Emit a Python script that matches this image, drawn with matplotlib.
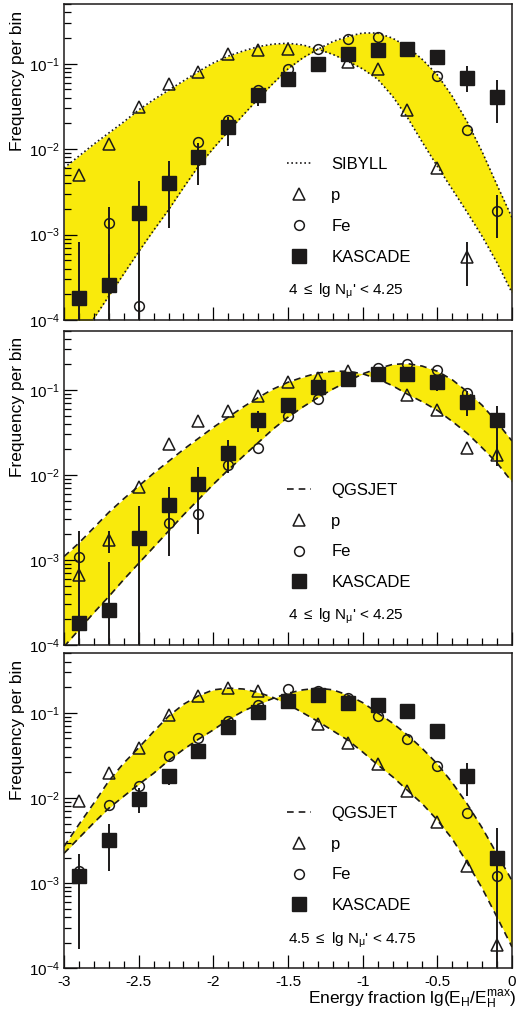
import numpy as np
import matplotlib
matplotlib.use('Agg')
import matplotlib.pyplot as plt
from matplotlib.ticker import LogLocator, MultipleLocator, NullFormatter, FuncFormatter
from matplotlib.lines import Line2D

plt.rcParams['font.family'] = ['Liberation Sans', 'DejaVu Sans']
plt.rcParams['mathtext.fontset'] = 'custom'
plt.rcParams['mathtext.rm'] = 'Liberation Sans'
plt.rcParams['mathtext.it'] = 'Liberation Sans:italic'
plt.rcParams['mathtext.default'] = 'regular'
plt.rcParams['axes.unicode_minus'] = False

nan = np.nan

# bin centres of the histograms
bins = [-2.9, -2.7, -2.5, -2.3, -2.1, -1.9, -1.7, -1.5, -1.3, -1.1, -0.9, -0.7, -0.5, -0.3, -0.1]
# x grid of the model band edges (read every 0.1)
curve_x = [-3.0, -2.9, -2.8, -2.7, -2.6, -2.5, -2.4, -2.3, -2.2, -2.1, -2.0,
           -1.9, -1.8, -1.7, -1.6, -1.5, -1.4, -1.3, -1.2, -1.1, -1.0,
           -0.9, -0.8, -0.7, -0.6, -0.5, -0.4, -0.3, -0.2, -0.1, 0.0]

# ---- top panel: SIBYLL, 4 <= lg Nmu' < 4.25
top_p = [5.0e-3, 1.15e-2, 3.1e-2, 5.8e-2, 8.1e-2, 0.131, 0.146, 0.15, nan, 0.106, 0.087, 0.029, 6.0e-3, 5.4e-4, nan]
top_fe = [nan, 1.38e-3, 1.48e-4, nan, 1.2e-2, 2.2e-2, 0.049, 0.087, 0.149, 0.194, 0.204, nan, 0.071, 0.017, 1.9e-3]
top_kas = [1.8e-4, 2.6e-4, 1.8e-3, 4.0e-3, 8.1e-3, 0.018, 0.043, 0.066, 0.10, 0.13, 0.146, 0.149, 0.12, 0.069, 0.041]
top_kas_lo = [1e-5, 1e-5, 1e-5, 1.2e-3, 3.8e-3, 0.0108, 0.032, 0.053, 0.092, 0.12, 0.135, 0.14, 0.097, 0.047, 0.020]
top_kas_hi = [8.3e-4, 6e-4, 4.2e-3, 7.2e-3, 0.0117, 0.024, 0.052, 0.074, 0.108, 0.14, 0.155, 0.158, 0.13, 0.095, 0.064]
top_p_lo = [nan, nan, nan, nan, nan, nan, nan, nan, nan, nan, nan, nan, nan, 2.5e-4, nan]
top_p_hi = [nan, nan, nan, nan, nan, nan, nan, nan, nan, nan, nan, nan, nan, 8.3e-4, nan]
top_fe_lo = [nan, 2.6e-4, nan, nan, nan, nan, nan, nan, nan, nan, nan, nan, nan, nan, 9.1e-4]
top_fe_hi = [nan, 2.1e-3, nan, nan, nan, nan, nan, nan, nan, nan, nan, nan, nan, nan, 2.9e-3]
top_p_curve = [-2.22, -2.08, -1.94, -1.81, -1.68, -1.54, -1.42, -1.31, -1.20, -1.09, -0.99,
               -0.91, -0.85, -0.80, -0.77, -0.76, -0.78, -0.83, -0.89, -0.97, -1.06,
               -1.18, -1.38, -1.63, -1.92, -2.20, -2.47, -2.74, -3.02, -3.33, -3.68]
top_fe_curve = [-4.55, -4.25, -3.98, -3.72, -3.46, -3.20, -2.95, -2.71, -2.45, -2.20, -1.99,
                -1.79, -1.60, -1.41, -1.23, -1.06, -0.93, -0.83, -0.74, -0.68, -0.64,
                -0.64, -0.70, -0.80, -0.95, -1.13, -1.38, -1.68, -2.03, -2.42, -2.80]

# ---- middle panel: QGSJET, 4 <= lg Nmu' < 4.25
mid_p = [6.6e-4, 1.7e-3, 7.2e-3, 0.023, 0.043, 0.057, 0.086, 0.123, 0.14, 0.167, nan, 0.087, 0.058, 0.021, 0.017]
mid_fe = [1.07e-3, nan, nan, 2.7e-3, 3.5e-3, 0.013, 0.021, 0.049, 0.079, nan, 0.18, 0.20, 0.17, 0.091, nan]
mid_kas = [1.8e-4, 2.6e-4, 1.8e-3, 4.4e-3, 7.9e-3, 0.018, 0.044, 0.066, 0.107, 0.134, 0.153, 0.153, 0.125, 0.073, 0.044]
mid_kas_lo = [1e-5, 1e-5, 1e-5, 1.1e-3, 2.0e-3, 0.0105, 0.032, 0.058, 0.098, 0.125, 0.145, 0.14, 0.096, 0.049, 0.0137]
mid_kas_hi = [2.2e-3, 9.5e-4, 4.3e-3, 7.3e-3, 0.0125, 0.026, 0.056, 0.075, 0.115, 0.14, 0.16, 0.165, 0.135, 0.096, 0.064]
mid_p_lo = [nan, 1.2e-3, nan, nan, nan, nan, nan, nan, nan, nan, nan, nan, nan, nan, 0.0126]
mid_p_hi = [nan, 2.2e-3, nan, nan, nan, nan, nan, nan, nan, nan, nan, nan, nan, nan, 0.023]
mid_p_curve = [-2.96, -2.80, -2.62, -2.44, -2.28, -2.13, -1.98, -1.84, -1.70, -1.57, -1.44,
               -1.32, -1.20, -1.09, -0.99, -0.91, -0.85, -0.80, -0.78, -0.78, -0.81,
               -0.87, -0.95, -1.05, -1.14, -1.24, -1.37, -1.51, -1.68, -1.86, -2.08]
mid_fe_curve = [-4.02, -3.82, -3.62, -3.43, -3.23, -3.04, -2.85, -2.66, -2.47, -2.29, -2.11,
                -1.94, -1.78, -1.62, -1.46, -1.32, -1.20, -1.09, -0.99, -0.90, -0.81,
                -0.75, -0.70, -0.69, -0.72, -0.78, -0.88, -1.02, -1.18, -1.38, -1.60]

# ---- bottom panel: QGSJET, 4.5 <= lg Nmu' < 4.75
bot_p = [9.1e-3, 0.0196, 0.039, 0.094, 0.157, 0.197, 0.18, nan, 0.073, 0.044, 0.025, 0.012, 5.2e-3, 1.6e-3, 1.9e-4]
bot_fe = [1.4e-3, 8.2e-3, 0.014, 0.031, 0.051, 0.08, 0.125, 0.19, 0.18, 0.15, 0.093, 0.049, 0.024, 6.7e-3, 1.2e-3]
bot_kas = [1.2e-3, 3.2e-3, 9.8e-3, 0.018, 0.036, 0.068, 0.103, 0.137, 0.16, 0.129, 0.125, 0.106, 0.062, 0.018, 2.0e-3]
bot_kas_lo = [1.7e-4, 1.4e-3, 6.6e-3, 0.0144, 0.033, 0.063, 0.096, 0.127, 0.149, 0.12, 0.116, 0.098, 0.055, 0.0105, 1e-5]
bot_kas_hi = [2.2e-3, 4.9e-3, 0.013, 0.0215, 0.039, 0.073, 0.11, 0.147, 0.171, 0.138, 0.134, 0.114, 0.069, 0.026, 4.5e-3]
bot_p_curve = [-2.57, -2.31, -2.06, -1.80, -1.59, -1.41, -1.22, -1.04, -0.90, -0.80, -0.73,
               -0.71, -0.72, -0.76, -0.82, -0.90, -1.00, -1.10, -1.21, -1.32, -1.46,
               -1.61, -1.75, -1.91, -2.07, -2.26, -2.48, -2.76, -3.06, -3.40, -3.75]
bot_fe_curve = [-2.65, -2.47, -2.29, -2.12, -1.98, -1.84, -1.71, -1.56, -1.43, -1.31, -1.20,
                -1.08, -0.98, -0.90, -0.83, -0.77, -0.73, -0.71, -0.73, -0.79, -0.88,
                -1.00, -1.12, -1.26, -1.42, -1.60, -1.82, -2.07, -2.35, -2.66, -2.97]

model_names = ['SIBYLL', 'QGSJET', 'QGSJET']
model_styles = [(0, (1, 1.6)), (0, (4, 3)), (0, (4, 3))]
range_labels = [r"4 $\leq$ lg N$_{\mu}$' < 4.25",
                r"4 $\leq$ lg N$_{\mu}$' < 4.25",
                r"4.5 $\leq$ lg N$_{\mu}$' < 4.75"]

panels = [
    (top_p, top_fe, top_kas, top_kas_lo, top_kas_hi, top_p_lo, top_p_hi, top_fe_lo, top_fe_hi, top_p_curve, top_fe_curve),
    (mid_p, mid_fe, mid_kas, mid_kas_lo, mid_kas_hi, mid_p_lo, mid_p_hi, None, None, mid_p_curve, mid_fe_curve),
    (bot_p, bot_fe, bot_kas, bot_kas_lo, bot_kas_hi, None, None, None, None, bot_p_curve, bot_fe_curve),
]

yellow = '#f9ea0c'
ink = '#1c1a1a'

fig = plt.figure(figsize=(5.17, 10.17), dpi=100)
axes_rects = [[0.1238, 0.6853, 0.8665, 0.3107],
              [0.1238, 0.3658, 0.8665, 0.3092],
              [0.1238, 0.0479, 0.8665, 0.3097]]

for i, (rect, pan) in enumerate(zip(axes_rects, panels)):
    (p, fe, kas, klo, khi, plo, phi, flo, fhi, pc, fc) = pan
    ax = fig.add_axes(rect)
    ax.set_yscale('log')

    cx = np.array(curve_x)
    pcv = 10.0 ** np.array(pc)
    fcv = 10.0 ** np.array(fc)
    ax.fill_between(cx, pcv, fcv, color=yellow, lw=0, zorder=1)
    ax.plot(cx, pcv, color=ink, lw=1.2, ls=model_styles[i], zorder=2)
    ax.plot(cx, fcv, color=ink, lw=1.2, ls=model_styles[i], zorder=2)

    # error bars
    ax.vlines(bins, klo, khi, color=ink, lw=1.4, zorder=3)
    if plo is not None:
        ax.vlines(bins, plo, phi, color=ink, lw=1.4, zorder=3)
    if flo is not None:
        ax.vlines(bins, flo, fhi, color=ink, lw=1.4, zorder=3)

    ax.plot(bins, p, ls='none', marker='^', ms=8, mfc='none', mec=ink, mew=1.1, zorder=4)
    ax.plot(bins, fe, ls='none', marker='o', ms=7, mfc='none', mec=ink, mew=1.1, zorder=4)
    ax.plot(bins, kas, ls='none', marker='s', ms=10.5, mfc=ink, mec=ink, zorder=5)

    ax.set_xlim(-3, 0)
    ax.set_ylim(1e-4, 0.5)

    ax.xaxis.set_major_locator(MultipleLocator(0.5))
    ax.xaxis.set_minor_locator(MultipleLocator(0.1))
    ax.xaxis.set_major_formatter(FuncFormatter(lambda v, pos: '%g' % v))
    ax.yaxis.set_major_locator(LogLocator(base=10, numticks=10))
    ax.yaxis.set_minor_locator(LogLocator(base=10, subs=np.arange(2, 10), numticks=20))
    ax.yaxis.set_minor_formatter(NullFormatter())
    ax.tick_params(which='both', direction='in', top=False, right=False, width=0.9, pad=3)
    ax.tick_params(which='major', length=9.5, labelsize=11)
    ax.tick_params(which='minor', length=5)
    ax.tick_params(axis='x', pad=5)
    for s in ax.spines.values():
        s.set_linewidth(1.1)
        s.set_color(ink)
    if i < 2:
        ax.tick_params(axis='x', labelbottom=False)

    ax.set_ylabel('Frequency per bin', fontsize=12.5, loc='top')
    ax.yaxis.set_label_coords(-0.088, 0.98)

    handles = [Line2D([], [], color=ink, lw=1.2, ls=model_styles[i]),
               Line2D([], [], ls='none', marker='^', ms=8, mfc='none', mec=ink, mew=1.1),
               Line2D([], [], ls='none', marker='o', ms=7, mfc='none', mec=ink, mew=1.1),
               Line2D([], [], ls='none', marker='s', ms=10.5, mfc=ink, mec=ink)]
    ax.legend(handles, [model_names[i], 'p', 'Fe', 'KASCADE'], loc='upper left',
              bbox_to_anchor=(0.498, 0.516), frameon=False, fontsize=12,
              handlelength=1.45, handletextpad=1.2, labelspacing=0.95,
              borderpad=0, borderaxespad=0, numpoints=1)
    ax.text(0.5, 0.09, range_labels[i], transform=ax.transAxes, fontsize=11,
            ha='left', va='center')

ax.set_xlabel(r'Energy fraction lg(E$_{H}$/E$_{H}^{max}$)', fontsize=12.5)
ax.xaxis.set_label_coords(1.01, -0.065)
ax.xaxis.label.set_ha('right')

fig.savefig('out.png', dpi=100)
